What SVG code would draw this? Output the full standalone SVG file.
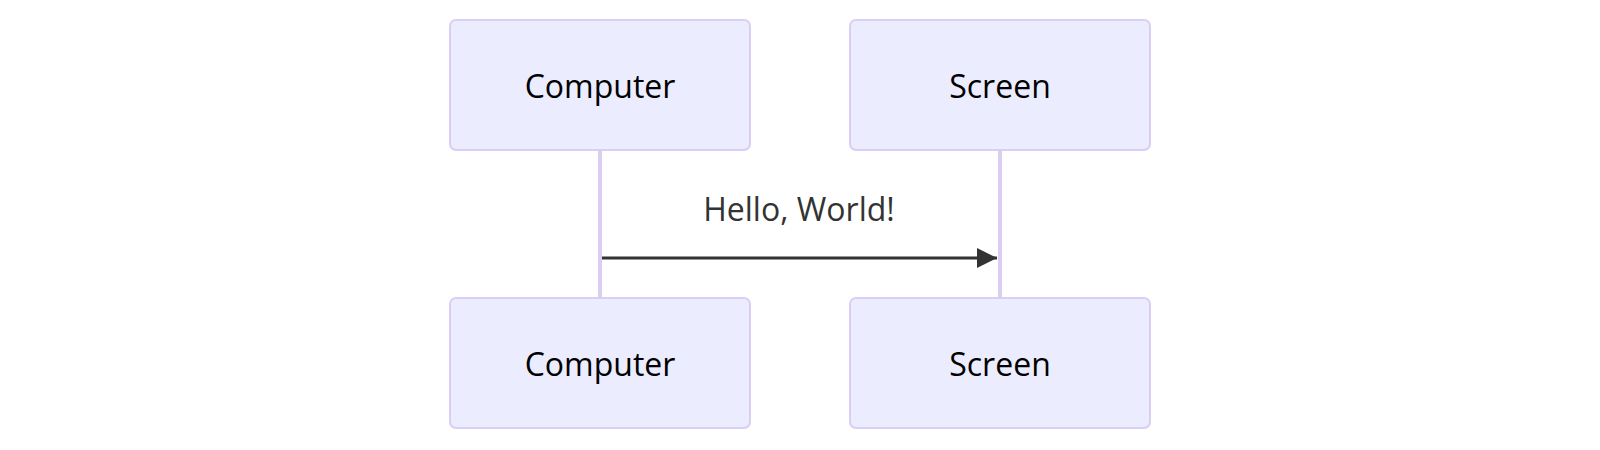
<svg xmlns="http://www.w3.org/2000/svg" width="1600" height="450" viewBox="0 0 1600 450">
<style>
.actor{fill:#ECECFF;stroke:#DACEF3;stroke-width:2}
.lbl{font-family:"Open Sans","Noto Sans",sans-serif;font-size:32px;fill:#000;text-anchor:middle;dominant-baseline:central}
.life{stroke:#DACEF3;stroke-width:4}
.msg{stroke:#333;stroke-width:3;fill:none}
.mtxt{font-family:"Open Sans","Noto Sans",sans-serif;font-size:32px;fill:#333;text-anchor:middle}
</style>
<defs>
<marker id="arrow" markerUnits="userSpaceOnUse" markerWidth="20" markerHeight="20" refX="20" refY="10" orient="auto">
<path d="M0,0 L20,10 L0,20 z" fill="#333"/>
</marker>
</defs>
<g id="lifelines">
<line class="life" x1="600" y1="150" x2="600" y2="298"/>
<line class="life" x1="1000" y1="150" x2="1000" y2="298"/>
</g>
<g id="computer-top"><rect class="actor" x="450" y="20" width="300" height="130" rx="6"/><text class="lbl" x="600" y="85">Computer</text></g>
<g id="screen-top"><rect class="actor" x="850" y="20" width="300" height="130" rx="6"/><text class="lbl" x="1000" y="85">Screen</text></g>
<g id="computer-bottom"><rect class="actor" x="450" y="298" width="300" height="130" rx="6"/><text class="lbl" x="600" y="363">Computer</text></g>
<g id="screen-bottom"><rect class="actor" x="850" y="298" width="300" height="130" rx="6"/><text class="lbl" x="1000" y="363">Screen</text></g>
<g id="connectors">
<line class="msg" x1="602" y1="258" x2="997" y2="258" marker-end="url(#arrow)"/>
<text class="mtxt" x="799" y="221">Hello, World!</text>
</g>
</svg>
